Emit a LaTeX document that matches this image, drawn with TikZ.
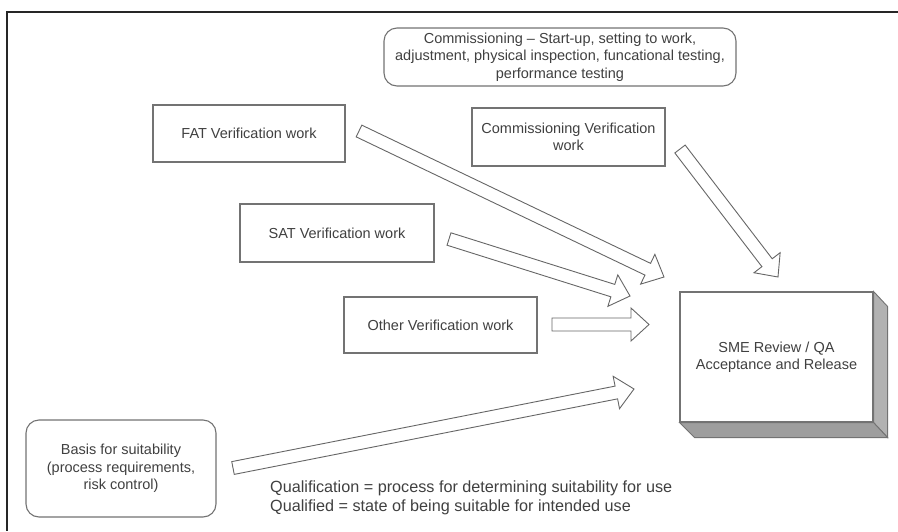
\documentclass[tikz,border=0pt]{standalone}
\usepackage{fontspec}
\setmainfont{Liberation Sans}
\usetikzlibrary{calc,positioning}

\begin{document}
\begin{tikzpicture}[
x=1pt,y=-1pt,
box/.style={
  draw=black!55,
  line width=1.1pt,
  fill=white,
  text=black!75,
  align=center,
  inner sep=0pt,
  font=\fontsize{14.5}{17.5}\selectfont
  },
roundbox/.style={
  box,
  rounded corners=13pt
  },
hollow/.style={
  draw=black!60,
  line width=0.9pt,
  fill=white,
  line join=miter
  },
side/.style={
  draw=black!55,
  line width=0.9pt
  }
]
\useasboundingbox (0,0) rectangle (898,531);
\draw[black!85,line width=1.2pt] (898,12) -- (7,12) -- (7,531);

% boxes
\node[roundbox,minimum width=352pt,minimum height=58pt] (comm) at (560,57)
  {Commissioning -- Start-up, setting to work,\\adjustment, physical inspection, funcational testing,\\performance testing};
\node[box,minimum width=193pt,minimum height=58pt] (cver) at (568.5,137)
  {Commissioning Verification\\work};
\node[box,minimum width=192pt,minimum height=57pt] (fat) at (249,133.5) {FAT Verification work};
\node[box,minimum width=194pt,minimum height=58pt] (sat) at (337,233) {SAT Verification work};
\node[box,minimum width=193pt,minimum height=56pt] (other) at (440.5,325) {Other Verification work};
\node[roundbox,minimum width=190pt,minimum height=97pt] (basis) at (121,468.5)
  {Basis for suitability\\(process requirements,\\risk control)};

% SME block with depth
\node[box,minimum width=193pt,minimum height=130pt] (sme) at (776.5,357)
  {SME Review / QA\\Acceptance and Release};
\filldraw[side,fill=black!30] (sme.north east) -- ++(14,15) -- ($(sme.south east)+(14,15)$) -- (sme.south east) -- cycle;
\filldraw[side,fill=black!38] (sme.south west) -- ++(15,15) -- ($(sme.south east)+(14,15)$) -- (sme.south east) -- cycle;

\node[anchor=west,align=left,text=black!75,inner sep=0pt,
  font=\fontsize{16.2}{19}\selectfont] (notes) at (270,497.5)
  {Qualification = process for determining suitability for use\\Qualified = state of being suitable for intended use};

% hollow arrows
\coordinate (fatT) at (359,131);
\coordinate (fatH) at (664,277);
\coordinate (cverT) at (680,149);
\coordinate (cverH) at (778,277);
\coordinate (satT) at (449,239);
\coordinate (satH) at (630,296);
\coordinate (otherT) at (552,324.5);
\coordinate (otherH) at (649,324.5);
\coordinate (basisT) at (233,468);
\coordinate (basisH) at (634,389);
\foreach \t/\h in {fatT/fatH,cverT/cverH,satT/satH,otherT/otherH,basisT/basisH}
{
  \coordinate (neck) at ($(\h)!18pt!(\t)$);
  \draw[hollow] ($(\t)!6.5pt!90:(\h)$) -- ($(neck)!6.5pt!90:(\h)$)
    -- ($(neck)!16.5pt!90:(\h)$) -- (\h) -- ($(neck)!16.5pt!-90:(\h)$)
    -- ($(neck)!6.5pt!-90:(\h)$) -- ($(\t)!6.5pt!-90:(\h)$) -- cycle;
}
\end{tikzpicture}
\end{document}
